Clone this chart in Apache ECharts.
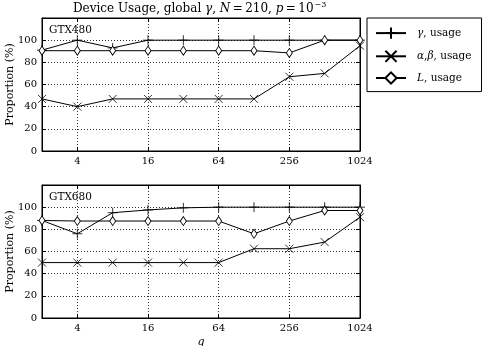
<!DOCTYPE html>
<html><head><meta charset="utf-8">
<script src="https://cdn.jsdelivr.net/npm/echarts@6/dist/echarts.min.js"></script>
<style>html,body{margin:0;padding:0;background:#fff}#c{width:485px;height:346px}</style>
</head><body><div id="c"></div>
<script>
const q = [2, 4, 8, 16, 32, 64, 128, 256, 512, 1024];
const seriesNames = ['γ, usage', 'α,β, usage', 'L, usage'];
const legendLabels = ['{i|γ}, usage', '{i|α},{i|β}, usage', '{i|L}, usage'];
const panelNames = ['GTX480', 'GTX680'];
// GTX480
const gamma480 = [91, 100, 93, 100, 100, 100, 100, 100, 100, 100];
const ab480    = [47, 40, 47, 47, 47, 47, 47, 67, 70, 95];
const L480     = [90.5, 90.5, 90.5, 90.5, 90.5, 90.5, 90.5, 88.5, 100, 100];
// GTX680
const gamma680 = [88, 76, 95, 97.5, 99.4, 100, 100, 100, 100, 100];
const ab680    = [50, 50, 50, 50, 50, 50, 62.5, 62.5, 68.5, 91];
const L680     = [88, 87.5, 87.5, 87.5, 87.5, 87.5, 76, 87.5, 97, 97];
const yMax = 120;
const yStep = 20;

const FF = 'DejaVu Serif';
const symbols = [
  'path://M0,5L10,5M5,0L5,10',
  'path://M0,0L10,10M0,10L10,0',
  'diamond'
];
const symbolSizes = [10, 8, [6, 9]];
const fills = ['none', 'none', '#fff'];
const borderWidths = [0.8, 0.8, 0.9];

const gridDefs = [
  {left: 42, top: 18, width: 318, height: 133},
  {left: 42, top: 185, width: 318, height: 133}
];

function xAx(gi, pos, main, named) {
  return {
    type: 'log', logBase: 4, gridIndex: gi, min: 2, max: 1024, position: pos,
    name: named ? 'q' : '', nameLocation: 'middle', nameGap: 19, nameMoveOverlap: false,
    nameTextStyle: {fontFamily: FF, fontStyle: 'italic', fontSize: 11, color: '#000'},
    axisLine: {show: true, onZero: false, lineStyle: {color: '#000', width: 1}},
    axisTick: {show: true, inside: true, length: 4, lineStyle: {color: '#000'}},
    axisLabel: {show: main, showMinLabel: false, color: '#000', fontFamily: FF, fontSize: 10, margin: 5,
      formatter: v => String(Math.round(v))},
    splitLine: {show: main, lineStyle: {color: '#333', type: [1, 2], width: 1}}
  };
}
function yAx(gi, pos, main) {
  return {
    type: 'value', gridIndex: gi, min: 0, max: yMax, interval: yStep, position: pos,
    name: main ? 'Proportion (%)' : '', nameLocation: 'middle', nameGap: 26, nameRotate: 90,
    nameMoveOverlap: false,
    nameTextStyle: {fontFamily: FF, fontSize: 11, color: '#000'},
    axisLine: {show: true, onZero: false, lineStyle: {color: '#000', width: 1}},
    axisTick: {show: true, inside: true, length: 4, lineStyle: {color: '#000'}},
    axisLabel: {show: main, color: '#000', fontFamily: FF, fontSize: 10, margin: 5,
      formatter: v => (v > 100 ? '' : String(v))},
    splitLine: {show: main, lineStyle: {color: '#333', type: [1, 2], width: 1}}
  };
}

const panelData = [[gamma480, ab480, L480], [gamma680, ab680, L680]];
const series = [];
panelData.forEach((arrs, gi) => {
  arrs.forEach((vals, si) => {
    series.push({
      name: seriesNames[si], type: 'line',
      xAxisIndex: gi * 2, yAxisIndex: gi * 2,
      data: q.map((x, i) => [x, vals[i]]),
      symbol: symbols[si], symbolSize: symbolSizes[si], showSymbol: true,
      lineStyle: {color: '#000', width: 1},
      itemStyle: {color: fills[si], borderColor: '#000', borderWidth: borderWidths[si]},
      clip: true, animation: false, z: 3 + si
    });
  });
});

const option = {
  animation: false,
  backgroundColor: '#fff',
  title: [
    {text: 'Device Usage, global {i|γ}, {i|N}\u2009=\u2009210, {i|p}\u2009=\u200910{s|\u22123}',
     left: 73, top: 1, padding: 0,
     textStyle: {fontFamily: FF, fontSize: 12, fontWeight: 'normal', color: '#000',
       rich: {i: {fontFamily: FF, fontStyle: 'italic', fontSize: 12, color: '#000'},
              s: {fontFamily: FF, fontSize: 8, color: '#000', padding: [0, 0, 7, 1]}}}},
    {text: panelNames[0], left: 49, top: 25, padding: 0,
     textStyle: {fontFamily: FF, fontSize: 10.5, fontWeight: 'normal', color: '#000'}},
    {text: panelNames[1], left: 49, top: 192, padding: 0,
     textStyle: {fontFamily: FF, fontSize: 10.5, fontWeight: 'normal', color: '#000'}}
  ],
  legend: {
    data: seriesNames, orient: 'vertical', left: 367, top: 18,
    padding: [7, 10, 7, 8], itemGap: 7, itemWidth: 30, itemHeight: 14,
    borderColor: '#000', borderWidth: 1, backgroundColor: '#fff',
    formatter: name => legendLabels[seriesNames.indexOf(name)],
    textStyle: {fontFamily: FF, fontSize: 10.5, color: '#000', padding: [0, 0, 0, 6],
      rich: {i: {fontFamily: FF, fontStyle: 'italic', fontSize: 10.5, color: '#000'}}}
  },
  grid: gridDefs.map(g => Object.assign({show: true, borderColor: '#000', borderWidth: 1,
    backgroundColor: 'transparent', containLabel: false, outerBoundsMode: 'none'}, g)),
  xAxis: [xAx(0, 'bottom', true, false), xAx(0, 'top', false, false),
          xAx(1, 'bottom', true, true), xAx(1, 'top', false, false)],
  yAxis: [yAx(0, 'left', true), yAx(0, 'right', false),
          yAx(1, 'left', true), yAx(1, 'right', false)],
  series: series
};
const chart = echarts.init(document.getElementById('c'), null, {renderer: 'canvas'});
chart.setOption(option);
</script>
</body></html>
